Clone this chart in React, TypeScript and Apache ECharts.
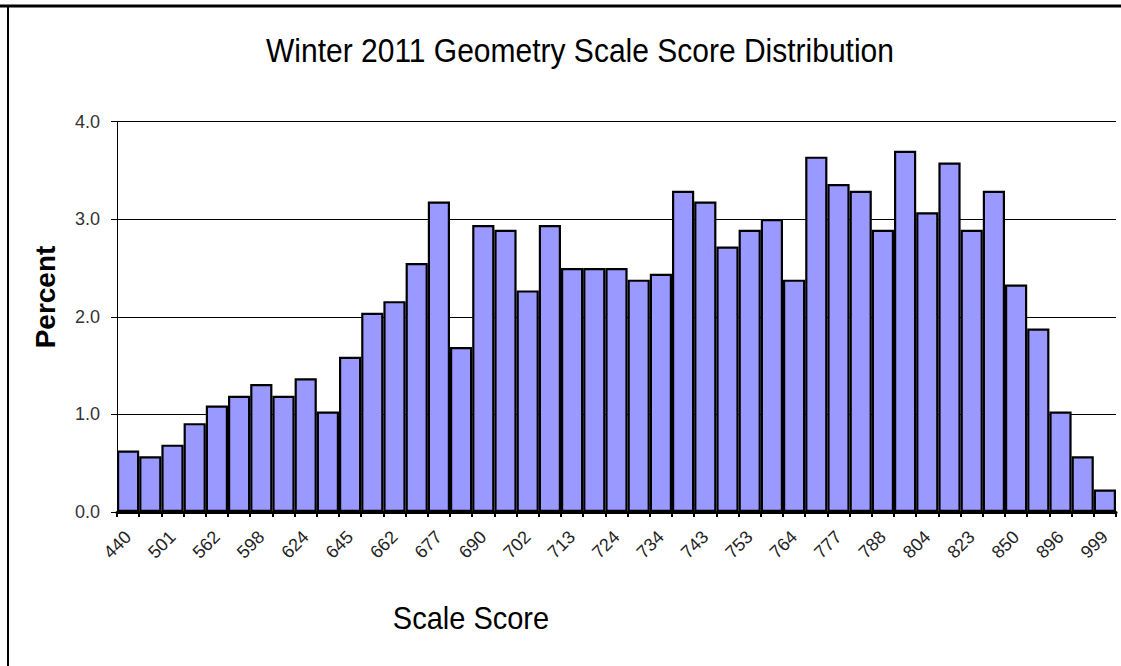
import React, { useEffect, useRef } from "react";
import * as echarts from "echarts";

const scoreLabels = [
  "440", "", "501", "", "562", "", "598", "", "624", "", "645", "", "662", "", "677", "",
  "690", "", "702", "", "713", "", "724", "", "734", "", "743", "", "753", "", "764", "",
  "777", "", "788", "", "804", "", "823", "", "850", "", "896", "", "999",
];
const categories = scoreLabels.map((l, i) => (l === "" ? `c${i}` : l));
const percents = [
  0.63, 0.57, 0.69, 0.91, 1.09, 1.19, 1.31, 1.19, 1.37, 1.03, 1.59, 2.04, 2.16, 2.55, 3.18,
  1.69, 2.94, 2.89, 2.27, 2.94, 2.5, 2.5, 2.5, 2.38, 2.44, 3.29, 3.18, 2.72, 2.89, 3.0,
  2.38, 3.64, 3.36, 3.29, 2.89, 3.7, 3.07, 3.58, 2.89, 3.29, 2.33, 1.88, 1.03, 0.57, 0.23,
];
const yTicks = [0, 1, 2, 3, 4];

const FONT = "Arial, 'Liberation Sans', sans-serif";

export default function App() {
  const ref = useRef<HTMLDivElement>(null);
  useEffect(() => {
    if (!ref.current) return;
    const chart = echarts.init(ref.current, null, { renderer: "svg" });
    chart.setOption({
      animation: false,
      backgroundColor: "#ffffff",
      grid: { left: 117, right: 5, top: 121.5, bottom: 154, containLabel: false },
      xAxis: {
        type: "category",
        data: categories,
        boundaryGap: true,
        axisLine: { show: true, lineStyle: { color: "#000", width: 3 } },
        axisTick: { show: true, interval: 0, length: 5, lineStyle: { color: "#000", width: 2 } },
        axisLabel: {
          interval: 0,
          rotate: 45,
          margin: 22,
          fontSize: 18,
          color: "#222",
          fontFamily: FONT,
          formatter: (v: string) => (v.startsWith("c") ? "" : v),
        },
        splitLine: { show: false },
      },
      yAxis: {
        type: "value",
        min: yTicks[0],
        max: yTicks[yTicks.length - 1],
        interval: 1,
        axisLine: { show: true, lineStyle: { color: "#000", width: 1 } },
        axisTick: { show: true, length: 6, lineStyle: { color: "#000", width: 1 } },
        axisLabel: {
          fontSize: 18,
          color: "#333",
          margin: 17,
          fontFamily: FONT,
          formatter: (v: number) => v.toFixed(1),
        },
        splitLine: { show: true, lineStyle: { color: "#000", width: 1 } },
      },
      series: [
        {
          type: "bar",
          data: percents,
          barCategoryGap: "0%",
          itemStyle: { color: "#9999FF", borderColor: "#000", borderWidth: 2.2 },
        },
      ],
      graphic: [
        { type: "line", shape: { x1: 0, y1: 6, x2: 1121, y2: 6 }, style: { stroke: "#000", lineWidth: 3 } },
        { type: "line", shape: { x1: 8, y1: 5, x2: 8, y2: 666 }, style: { stroke: "#000", lineWidth: 2 } },
        {
          type: "text",
          x: 580,
          y: 51,
          scaleY: 1.08,
          style: {
            text: "Winter 2011 Geometry Scale Score Distribution",
            font: `30px ${FONT}`,
            fill: "#000",
            textAlign: "center",
            textVerticalAlign: "middle",
          },
        },
        {
          type: "text",
          x: 471,
          y: 618,
          scaleY: 1.08,
          style: {
            text: "Scale Score",
            font: `29px ${FONT}`,
            fill: "#000",
            textAlign: "center",
            textVerticalAlign: "middle",
          },
        },
        {
          type: "text",
          x: 45,
          y: 297,
          rotation: Math.PI / 2,
          style: {
            text: "Percent",
            font: `bold 28px ${FONT}`,
            fill: "#000",
            textAlign: "center",
            textVerticalAlign: "middle",
          },
        },
      ],
    });
    return () => chart.dispose();
  }, []);
  return (
    <div
      ref={ref}
      style={{ position: "absolute", left: 0, top: 0, width: 1121, height: 666, background: "#fff" }}
    />
  );
}
